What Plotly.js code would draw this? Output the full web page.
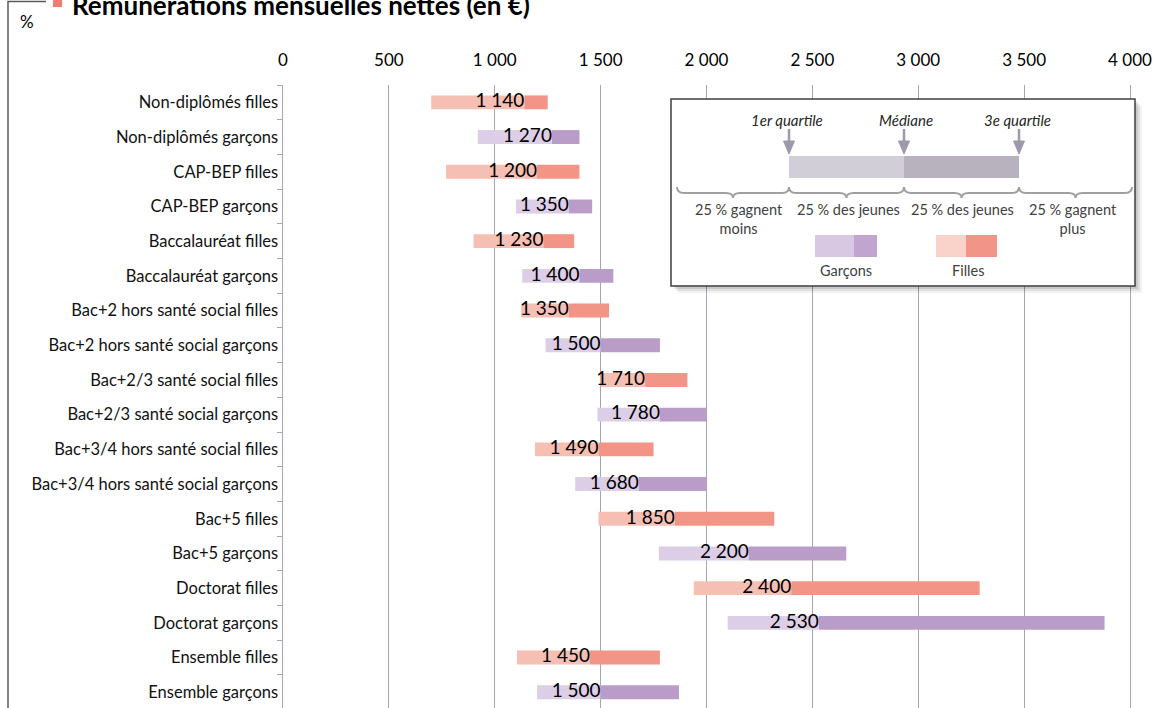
<!DOCTYPE html>
<html>
<head>
<meta charset="utf-8">
<script src="https://cdn.plot.ly/plotly-3.0.1.min.js"></script>
<style>
  html, body { margin: 0; padding: 0; background: #ffffff; }
  #chart { width: 1154px; height: 708px; }
</style>
</head>
<body>
<div id="chart"></div>
<script>
// ---- Data ----
const categories = [
  "Non-diplômés filles", "Non-diplômés garçons",
  "CAP-BEP filles", "CAP-BEP garçons",
  "Baccalauréat filles", "Baccalauréat garçons",
  "Bac+2 hors santé social filles", "Bac+2 hors santé social garçons",
  "Bac+2/3 santé social filles", "Bac+2/3 santé social garçons",
  "Bac+3/4 hors santé social filles", "Bac+3/4 hors santé social garçons",
  "Bac+5 filles", "Bac+5 garçons",
  "Doctorat filles", "Doctorat garçons",
  "Ensemble filles", "Ensemble garçons"
];
const sexe = ["F","G","F","G","F","G","F","G","F","G","F","G","F","G","F","G","F","G"];
const q1 =     [ 700,  920,  770, 1100,  900, 1130, 1125, 1240, 1500, 1485, 1190, 1380, 1490, 1775, 1940, 2100, 1105, 1200];
const median = [1140, 1270, 1200, 1350, 1230, 1400, 1350, 1500, 1710, 1780, 1490, 1680, 1850, 2200, 2400, 2530, 1450, 1500];
const q3 =     [1250, 1400, 1400, 1460, 1375, 1560, 1540, 1780, 1910, 2000, 1750, 2000, 2320, 2660, 3290, 3880, 1780, 1870];
const xTicks = [0, 500, 1000, 1500, 2000, 2500, 3000, 3500, 4000];

// ---- Styles ----
const FONT = "Lato, 'Open Sans', sans-serif";
const colLight = {F: "#f6bfb4", G: "#dccee6"};
const colDark  = {F: "#f29486", G: "#b99cc8"};
const gridCol = "#a6a3b3";

// plot area geometry (pixels)
const L = 283, T = 85, W = 856, H = 623;
const px = X => (X - L) / W;
const py = Y => 1 - (Y - T) / H;
const xMax = 4000 * W / 847;

const fmt = v => String(v).replace(/\B(?=(\d{3})+(?!\d))/g, " ");

const traces = [
  {
    type: "bar", orientation: "h", y: categories,
    base: q1, x: median.map((m, i) => m - q1[i]),
    marker: {color: sexe.map(s => colLight[s]), line: {width: 0}},
    hoverinfo: "skip", showlegend: false
  },
  {
    type: "bar", orientation: "h", y: categories,
    base: median, x: q3.map((v, i) => v - median[i]),
    marker: {color: sexe.map(s => colDark[s]), line: {width: 0}},
    hoverinfo: "skip", showlegend: false
  },
  {
    type: "scatter", mode: "text", y: categories, x: median,
    text: median.map(fmt), textposition: "middle left",
    textfont: {family: FONT, size: 19, color: "#000000"},
    cliponaxis: false, hoverinfo: "skip", showlegend: false
  }
];

// ---- Legend box drawing helpers ----
const shapes = [];
const annotations = [];
function rect(x0, y0, x1, y1, fill, line) {
  shapes.push({type: "rect", xref: "paper", yref: "paper", layer: "above",
    x0: px(x0), x1: px(x1), y0: py(y0), y1: py(y1),
    fillcolor: fill, line: line || {width: 0}});
}
function pathPx(pts, close, style) {
  let d = "";
  pts.forEach((p, i) => {
    if (p[0] === "Q") {
      d += " Q" + px(p[1]) + "," + py(p[2]) + " " + px(p[3]) + "," + py(p[4]);
    } else {
      d += (i === 0 ? "M" : " L") + px(p[0]) + "," + py(p[1]);
    }
  });
  if (close) d += " Z";
  shapes.push(Object.assign({type: "path", xref: "paper", yref: "paper", layer: "above", path: d}, style));
}
function text(x, y, t, opts) {
  annotations.push(Object.assign({xref: "paper", yref: "paper", x: px(x), y: py(y), text: t,
    showarrow: false, xanchor: "center", yanchor: "middle",
    font: {family: FONT, size: 14.5, color: "#404040"}}, opts || {}));
}

// frame at top-left
pathPx([[8, 720], [8, 1.5], [46, 1.5]], false, {line: {color: "#595959", width: 1.5}});
// title marker square
rect(53, -4, 62, 7, "#f07e70");
text(27, 21, "%", {font: {family: FONT, size: 17, color: "#000000"}});

// legend box with soft shadow
[[7, 0.05], [5, 0.07], [3, 0.1]].forEach(([o, a]) => rect(671 + o, 99 + o, 1135 + o, 286 + o, "rgba(0,0,0," + a + ")"));
rect(671, 99, 1135, 286, "#ffffff", {color: "#3f3f3f", width: 1.5});

const qx = [789, 904, 1019];
// bar in legend
rect(qx[0], 156, qx[1], 178, "#d1ced7");
rect(qx[1], 156, qx[2], 178, "#b8b2bf");
// arrows
qx.forEach(x => {
  pathPx([[x, 129], [x, 144]], false, {line: {color: "#9e98a9", width: 2.5}});
  pathPx([[x - 5.5, 141], [x + 5.5, 141], [x, 154]], true, {fillcolor: "#9e98a9", line: {color: "#9e98a9", width: 1}});
});
const itf = {family: FONT, size: 15, color: "#262626"};
text(787, 120, "<i>1er quartile</i>", {font: itf});
text(906, 120, "<i>Médiane</i>", {font: itf});
text(1017, 120, "<i>3e quartile</i>", {font: itf});
// braces
function brace(x1, x2) {
  const xm = (x1 + x2) / 2;
  pathPx([[x1, 187], ["Q", x1, 193, x1 + 7, 193], [xm - 7, 193], ["Q", xm, 193, xm, 198],
          ["Q", xm, 193, xm + 7, 193], [x2 - 7, 193], ["Q", x2, 193, x2, 187]], false,
         {line: {color: "#a0a0a0", width: 2}});
}
brace(677, qx[0]); brace(qx[0], qx[1]); brace(qx[1], qx[2]); brace(qx[2], 1132);
text(739, 219, "25 % gagnent<br>moins");
text(848, 210, "25 % des jeunes");
text(962, 210, "25 % des jeunes");
text(1073, 219, "25 % gagnent<br>plus");
// swatches
rect(815, 235, 854, 257, "#d9c8e2");
rect(854, 235, 877, 257, "#c2a5cf");
rect(936, 235, 966, 257, "#f9d2c9");
rect(966, 235, 997, 257, "#f29488");
text(846, 270, "Garçons");
text(968, 270, "Filles");

const layout = {
  width: 1154, height: 708,
  margin: {l: L, r: 1154 - L - W, t: T, b: 0, pad: 0},
  paper_bgcolor: "#ffffff", plot_bgcolor: "#ffffff",
  font: {family: FONT, color: "#000000"},
  separators: ", ",
  title: {
    text: "<b>Rémunérations mensuelles nettes (en €)</b>",
    x: 72 / 1154, xanchor: "left", xref: "container",
    y: 1 - 6 / 708, yanchor: "middle", yref: "container",
    font: {family: FONT, size: 26, color: "#000000"}
  },
  barmode: "overlay", bargap: 0.6,
  xaxis: {
    side: "top", range: [0, xMax], tickvals: xTicks, ticktext: xTicks.map(fmt),
    showgrid: true, gridcolor: gridCol, gridwidth: 1,
    zeroline: false, showline: false, ticks: "",
    ticklabelstandoff: 15,
    tickfont: {family: FONT, size: 17, color: "#000000"},
    fixedrange: true
  },
  yaxis: {
    type: "category", categoryorder: "array", categoryarray: categories,
    range: [17.454, -0.5], autorange: false,
    showline: true, linecolor: gridCol, linewidth: 1.5,
    ticks: "outside", tickson: "boundaries", ticklen: 5, tickcolor: gridCol, tickwidth: 1,
    showgrid: false, zeroline: false,
    tickfont: {family: FONT, size: 16.5, color: "#111111"},
    fixedrange: true
  },
  shapes: shapes,
  annotations: annotations,
  showlegend: false
};

Plotly.newPlot("chart", traces, layout, {displayModeBar: false, staticPlot: true});
</script>
</body>
</html>
